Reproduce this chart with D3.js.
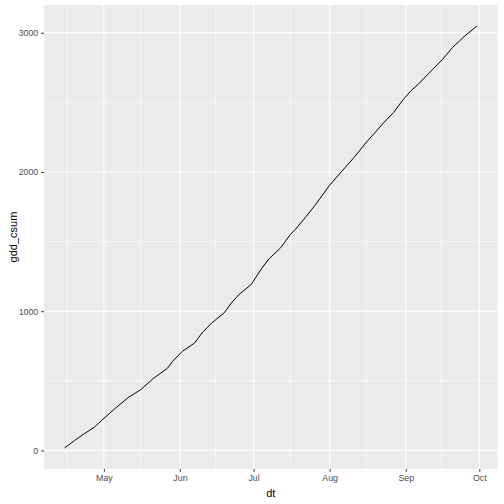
<!DOCTYPE html>
<html>
<head>
<meta charset="utf-8">
<script src="https://cdn.jsdelivr.net/npm/d3@7"></script>
<style>
  body { margin: 0; background: #fff; }
  text { font-family: "Liberation Sans", Arial, sans-serif; }
</style>
</head>
<body>
<div id="chart"></div>
<script>
// cumulative growing degree days
var dates = ["2021-04-15","2021-04-19","2021-04-23","2021-04-27","2021-04-30",
  "2021-05-05","2021-05-11","2021-05-16","2021-05-21","2021-05-27","2021-05-29",
  "2021-06-02","2021-06-07","2021-06-10","2021-06-14","2021-06-19","2021-06-22",
  "2021-06-25","2021-06-30","2021-07-04","2021-07-07","2021-07-12","2021-07-16",
  "2021-07-18","2021-07-22","2021-07-26","2021-08-01","2021-08-06","2021-08-11",
  "2021-08-16","2021-08-20","2021-08-23","2021-08-27","2021-08-31","2021-09-03","2021-09-06",
  "2021-09-12","2021-09-16","2021-09-20","2021-09-25","2021-09-30"];
var gdd = [18, 70, 120, 165, 214,
  293, 381, 436, 515, 592, 640,
  712, 772, 844, 916, 988, 1060,
  1119, 1191, 1299, 1371, 1455, 1551,
  1587, 1671, 1760, 1905, 2006, 2105,
  2215, 2293, 2354, 2426, 2521, 2581, 2629,
  2737, 2809, 2893, 2976, 3048];
var yTicks = [0, 1000, 2000, 3000];
var yMinor = [500, 1500, 2500];
var xTicks = ["2021-05-01","2021-06-01","2021-07-01","2021-08-01","2021-09-01","2021-10-01"];
var xMinor = ["2021-04-16","2021-05-16","2021-06-15.5","2021-07-16","2021-08-16","2021-09-15.5"];

var parse = d3.utcParse("%Y-%m-%d");
function parseMid(s) {
  // half-day minor breaks
  if (s.indexOf(".5") > 0) return new Date(parse(s.replace(".5", "")).getTime() + 12 * 3600 * 1000);
  return parse(s);
}
var data = dates.map(function(d, i) { return {dt: parse(d), v: gdd[i]}; });

var W = 504, H = 504;
var margin = {top: 5, right: 6.5, bottom: 35, left: 44};
var pw = W - margin.left - margin.right,
    ph = H - margin.top - margin.bottom;

var svg = d3.select("#chart").append("svg")
  .attr("width", W).attr("height", H);

// scales with ggplot style 5% expansion
var xExt = d3.extent(data, function(d) { return d.dt; });
var xPad = (xExt[1] - xExt[0]) * 0.05;
var x = d3.scaleUtc()
  .domain([new Date(+xExt[0] - xPad), new Date(+xExt[1] + xPad)])
  .range([0, pw]);

var yExt = d3.extent(gdd);
var yPad = (yExt[1] - yExt[0]) * 0.05;
var y = d3.scaleLinear()
  .domain([yExt[0] - yPad, yExt[1] + yPad])
  .range([ph, 0]);

var g = svg.append("g")
  .attr("transform", "translate(" + margin.left + "," + margin.top + ")");

// panel
g.append("rect").attr("width", pw).attr("height", ph).attr("fill", "#EBEBEB");

// grid
g.selectAll(".ymin").data(yMinor).enter().append("line")
  .attr("x1", 0).attr("x2", pw)
  .attr("y1", function(d) { return y(d); }).attr("y2", function(d) { return y(d); })
  .attr("stroke", "#fff").attr("stroke-width", 0.6);
g.selectAll(".xmin").data(xMinor).enter().append("line")
  .attr("y1", 0).attr("y2", ph)
  .attr("x1", function(d) { return x(parseMid(d)); }).attr("x2", function(d) { return x(parseMid(d)); })
  .attr("stroke", "#fff").attr("stroke-width", 0.6);
g.selectAll(".ymaj").data(yTicks).enter().append("line")
  .attr("x1", 0).attr("x2", pw)
  .attr("y1", function(d) { return y(d); }).attr("y2", function(d) { return y(d); })
  .attr("stroke", "#fff").attr("stroke-width", 1.1);
g.selectAll(".xmaj").data(xTicks).enter().append("line")
  .attr("y1", 0).attr("y2", ph)
  .attr("x1", function(d) { return x(parse(d)); }).attr("x2", function(d) { return x(parse(d)); })
  .attr("stroke", "#fff").attr("stroke-width", 1.1);

// the line
var line = d3.line()
  .x(function(d) { return x(d.dt); })
  .y(function(d) { return y(d.v); });
g.append("path").datum(data)
  .attr("d", line)
  .attr("fill", "none")
  .attr("stroke", "#000")
  .attr("stroke-width", 1);

// axes
var xAxis = g.append("g")
  .attr("transform", "translate(0," + ph + ")")
  .call(d3.axisBottom(x)
    .tickValues(xTicks.map(parse))
    .tickFormat(d3.utcFormat("%b"))
    .tickSize(2.75).tickPadding(3));
var yAxis = g.append("g")
  .call(d3.axisLeft(y)
    .tickValues(yTicks)
    .tickFormat(d3.format("d"))
    .tickSize(2.75).tickPadding(3));
[xAxis, yAxis].forEach(function(a) {
  a.select(".domain").remove();
  a.selectAll(".tick line").attr("stroke", "#333333").attr("stroke-width", 1);
  a.selectAll(".tick text")
    .attr("fill", "#4D4D4D")
    .style("font-size", "8.8px")
    .style("font-family", "'Liberation Sans', Arial, sans-serif");
});

// axis titles
svg.append("text")
  .attr("x", margin.left + pw / 2).attr("y", 497)
  .attr("text-anchor", "middle")
  .style("font-size", "11px")
  .text("dt");
svg.append("text")
  .attr("transform", "translate(17," + (margin.top + ph / 2) + ") rotate(-90)")
  .attr("text-anchor", "middle")
  .style("font-size", "11px")
  .text("gdd_csum");
</script>
</body>
</html>
